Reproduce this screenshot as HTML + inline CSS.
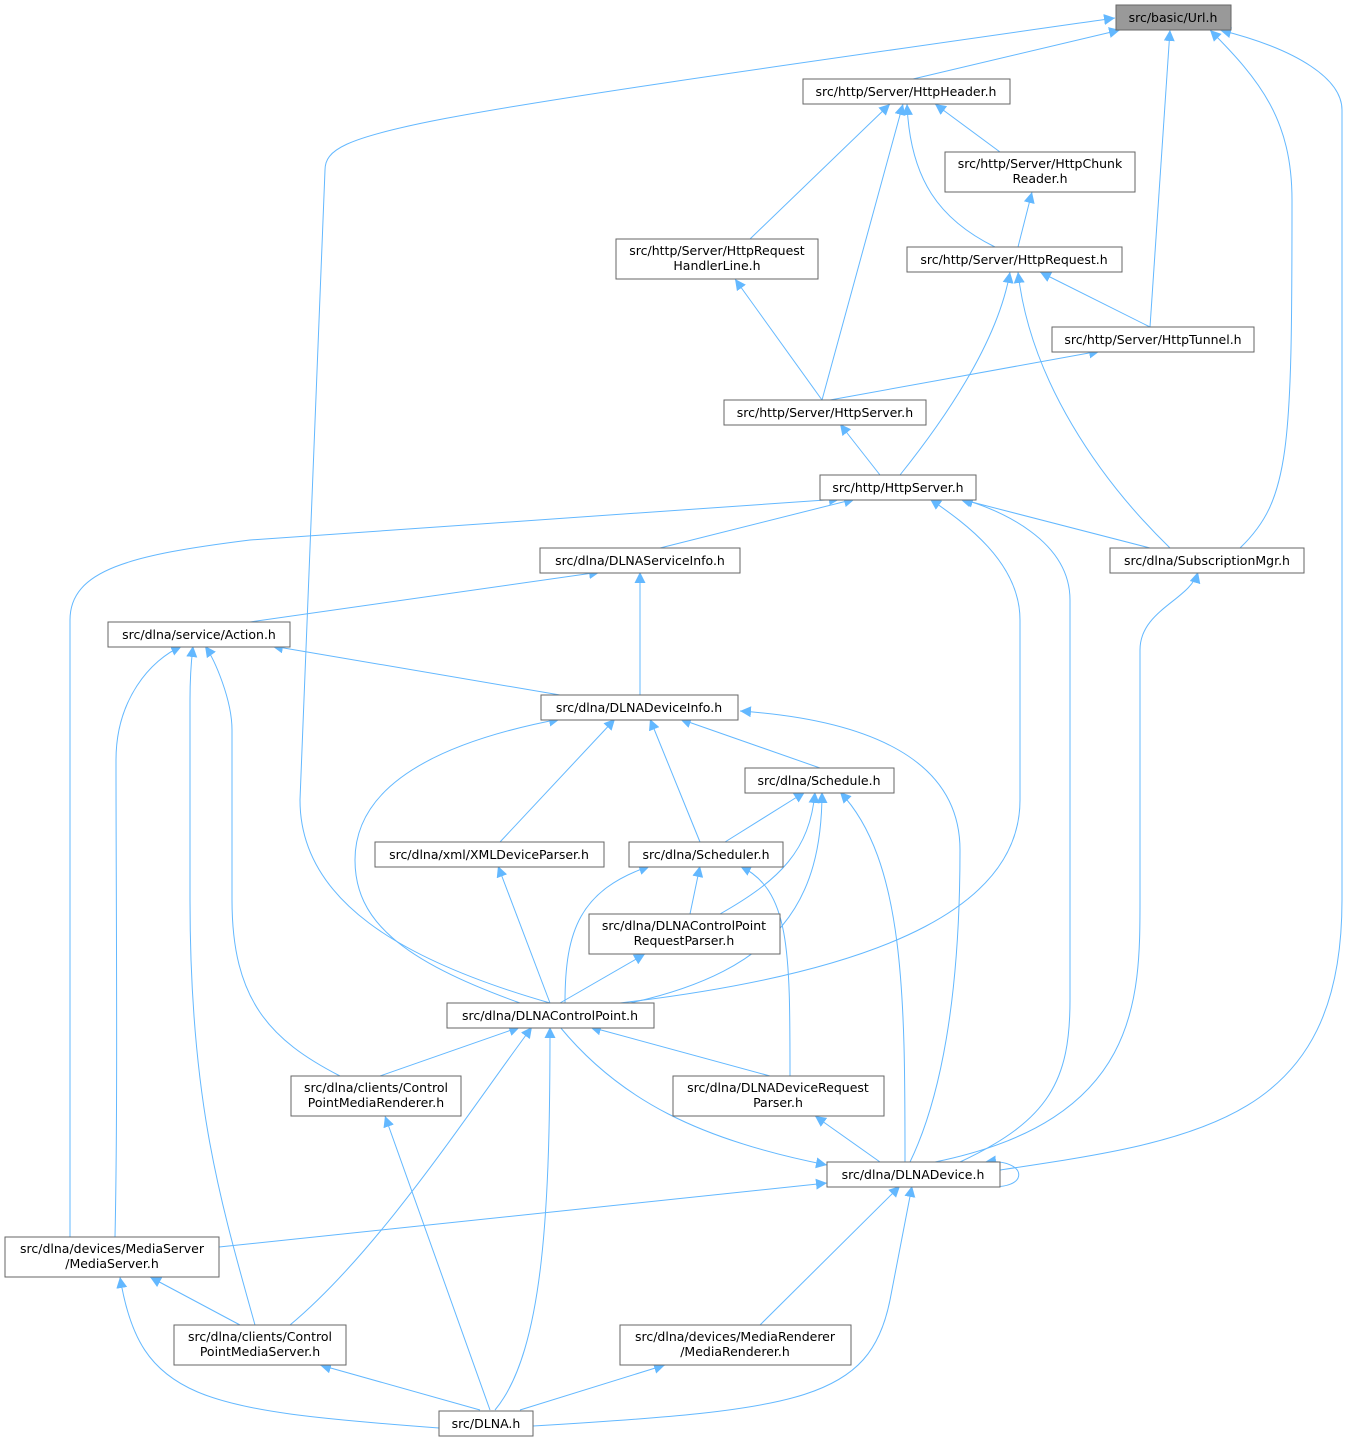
<!DOCTYPE html>
<html><head><meta charset="utf-8"><style>
html,body{margin:0;padding:0;background:#fff;}
svg text{font-family:"DejaVu Sans","Liberation Sans",sans-serif;font-size:12.5px;fill:#000;text-anchor:middle;}
</style></head><body>
<svg width="1348" height="1444" viewBox="0 0 1348 1444" xmlns="http://www.w3.org/2000/svg">
<defs>
<marker id="a" viewBox="0 0 10 10" refX="10" refY="5" markerWidth="11" markerHeight="11" markerUnits="userSpaceOnUse" orient="auto">
<path d="M0,0 L10,5 L0,10 z" fill="#63b8ff"/></marker>
</defs>
<g fill="none" stroke="#63b8ff" stroke-width="1" marker-end="url(#a)">
<path d="M913,79 L1120,30"/>
<path d="M550,1003 C400,960 300,900 300,800 L325,170 C325,130 400,120 1115,18"/>
<path d="M1150,327 L1170,30"/>
<path d="M1240,548 C1290,500 1292,450 1292,200 C1292,120 1260,80 1210,30"/>
<path d="M1000,1170 C1200,1140 1342,1120 1342,900 L1342,110 C1342,80 1300,50 1220,30"/>
<path d="M1000,152 L935,104"/>
<path d="M750,239 L890,104"/>
<path d="M822,400 L903,104"/>
<path d="M995,247 C940,220 910,180 907,104"/>
<path d="M1018,247 L1032,192"/>
<path d="M1150,327 L1040,272"/>
<path d="M822,400 L735,279"/>
<path d="M830,400 L1100,351"/>
<path d="M880,475 L840,424"/>
<path d="M900,475 C960,400 1000,330 1010,272"/>
<path d="M1170,548 C1100,480 1030,380 1018,272"/>
<path d="M660,548 L855,499"/>
<path d="M1150,548 L960,499"/>
<path d="M70,1237 L70,620 C70,570 130,555 250,540 L840,499"/>
<path d="M620,1003 C900,970 1020,900 1020,800 L1020,620 C1020,560 960,520 930,499"/>
<path d="M960,1162 C1050,1120 1070,1080 1070,1000 L1070,600 C1070,540 1000,510 962,499"/>
<path d="M250,622 L600,572"/>
<path d="M640,695 L640,572"/>
<path d="M560,695 L272,646"/>
<path d="M820,768 L680,719"/>
<path d="M500,842 L615,719"/>
<path d="M700,842 L650,719"/>
<path d="M520,1003 C400,960 355,920 355,860 C355,780 450,740 560,719"/>
<path d="M910,1162 C940,1100 960,1000 960,850 C960,760 870,720 740,711"/>
<path d="M725,842 L805,792"/>
<path d="M720,914 C780,880 810,850 815,792"/>
<path d="M630,1003 C780,970 822,900 822,792"/>
<path d="M905,1162 C905,1000 905,860 840,792"/>
<path d="M690,914 L700,866"/>
<path d="M565,1003 C565,930 580,890 650,866"/>
<path d="M790,1076 C790,950 790,890 740,866"/>
<path d="M550,1003 L498,866"/>
<path d="M560,1003 L645,954"/>
<path d="M380,1076 L520,1027"/>
<path d="M770,1076 L590,1027"/>
<path d="M560,1027 C620,1100 700,1140 827,1165"/>
<path d="M290,1325 C380,1250 470,1110 532,1027"/>
<path d="M495,1410 C545,1350 550,1200 550,1027"/>
<path d="M340,1076 C270,1040 232,1000 232,900 L232,730 C232,700 215,660 205,646"/>
<path d="M115,1237 C118,1100 116,900 116,760 C116,700 150,660 182,646"/>
<path d="M255,1325 C220,1200 190,1100 190,900 L190,700 C190,670 192,655 193,646"/>
<path d="M880,1162 L815,1116"/>
<path d="M935,1162 C1140,1120 1140,1000 1140,900 L1140,650 C1140,610 1190,600 1198,572"/>
<path d="M219,1247 L827,1183"/>
<path d="M760,1325 L900,1186"/>
<path d="M533,1426 C800,1410 870,1400 890,1300 L912,1186"/>
<path d="M490,1410 L385,1116"/>
<path d="M480,1410 L320,1365"/>
<path d="M439,1428 C200,1410 140,1400 120,1277"/>
<path d="M520,1410 L665,1365"/>
<path d="M240,1325 L150,1277"/>
<path d="M985,1186 C1030,1192 1030,1158 985,1162"/>
</g>
<g stroke="#666" stroke-width="1" fill="#fff">
<rect x="1116" y="5" width="115" height="25" fill="#999"/>
<rect x="803" y="79" width="207" height="25"/>
<rect x="945" y="152" width="190" height="40"/>
<rect x="616" y="239" width="202" height="40"/>
<rect x="907" y="247" width="215" height="25"/>
<rect x="1052" y="327" width="202" height="25"/>
<rect x="724" y="400" width="202" height="25"/>
<rect x="820" y="475" width="156" height="25"/>
<rect x="540" y="548" width="200" height="25"/>
<rect x="1110" y="548" width="194" height="25"/>
<rect x="108" y="622" width="182" height="25"/>
<rect x="541" y="695" width="197" height="25"/>
<rect x="745" y="768" width="149" height="25"/>
<rect x="375" y="842" width="229" height="25"/>
<rect x="629" y="842" width="154" height="25"/>
<rect x="589" y="914" width="191" height="40"/>
<rect x="447" y="1003" width="207" height="25"/>
<rect x="291" y="1076" width="170" height="40"/>
<rect x="673" y="1076" width="211" height="40"/>
<rect x="827" y="1162" width="173" height="25"/>
<rect x="5" y="1237" width="214" height="40"/>
<rect x="174" y="1325" width="172" height="40"/>
<rect x="620" y="1325" width="231" height="40"/>
<rect x="439" y="1411" width="94" height="25"/>
</g>
<g>
<text x="1173" y="22">src/basic/Url.h</text>
<text x="906" y="96">src/http/Server/HttpHeader.h</text>
<text x="1040" y="168">src/http/Server/HttpChunk</text><text x="1040" y="183">Reader.h</text>
<text x="717" y="255">src/http/Server/HttpRequest</text><text x="717" y="270">HandlerLine.h</text>
<text x="1014" y="264">src/http/Server/HttpRequest.h</text>
<text x="1153" y="344">src/http/Server/HttpTunnel.h</text>
<text x="825" y="417">src/http/Server/HttpServer.h</text>
<text x="898" y="492">src/http/HttpServer.h</text>
<text x="640" y="565">src/dlna/DLNAServiceInfo.h</text>
<text x="1207" y="565">src/dlna/SubscriptionMgr.h</text>
<text x="199" y="639">src/dlna/service/Action.h</text>
<text x="639" y="712">src/dlna/DLNADeviceInfo.h</text>
<text x="819" y="785">src/dlna/Schedule.h</text>
<text x="489" y="859">src/dlna/xml/XMLDeviceParser.h</text>
<text x="706" y="859">src/dlna/Scheduler.h</text>
<text x="684" y="930">src/dlna/DLNAControlPoint</text><text x="684" y="945">RequestParser.h</text>
<text x="550" y="1020">src/dlna/DLNAControlPoint.h</text>
<text x="376" y="1092">src/dlna/clients/Control</text><text x="376" y="1107">PointMediaRenderer.h</text>
<text x="778" y="1092">src/dlna/DLNADeviceRequest</text><text x="778" y="1107">Parser.h</text>
<text x="913" y="1179">src/dlna/DLNADevice.h</text>
<text x="112" y="1253">src/dlna/devices/MediaServer</text><text x="112" y="1268">/MediaServer.h</text>
<text x="260" y="1341">src/dlna/clients/Control</text><text x="260" y="1356">PointMediaServer.h</text>
<text x="735" y="1341">src/dlna/devices/MediaRenderer</text><text x="735" y="1356">/MediaRenderer.h</text>
<text x="486" y="1428">src/DLNA.h</text>
</g>
</svg>
</body></html>
